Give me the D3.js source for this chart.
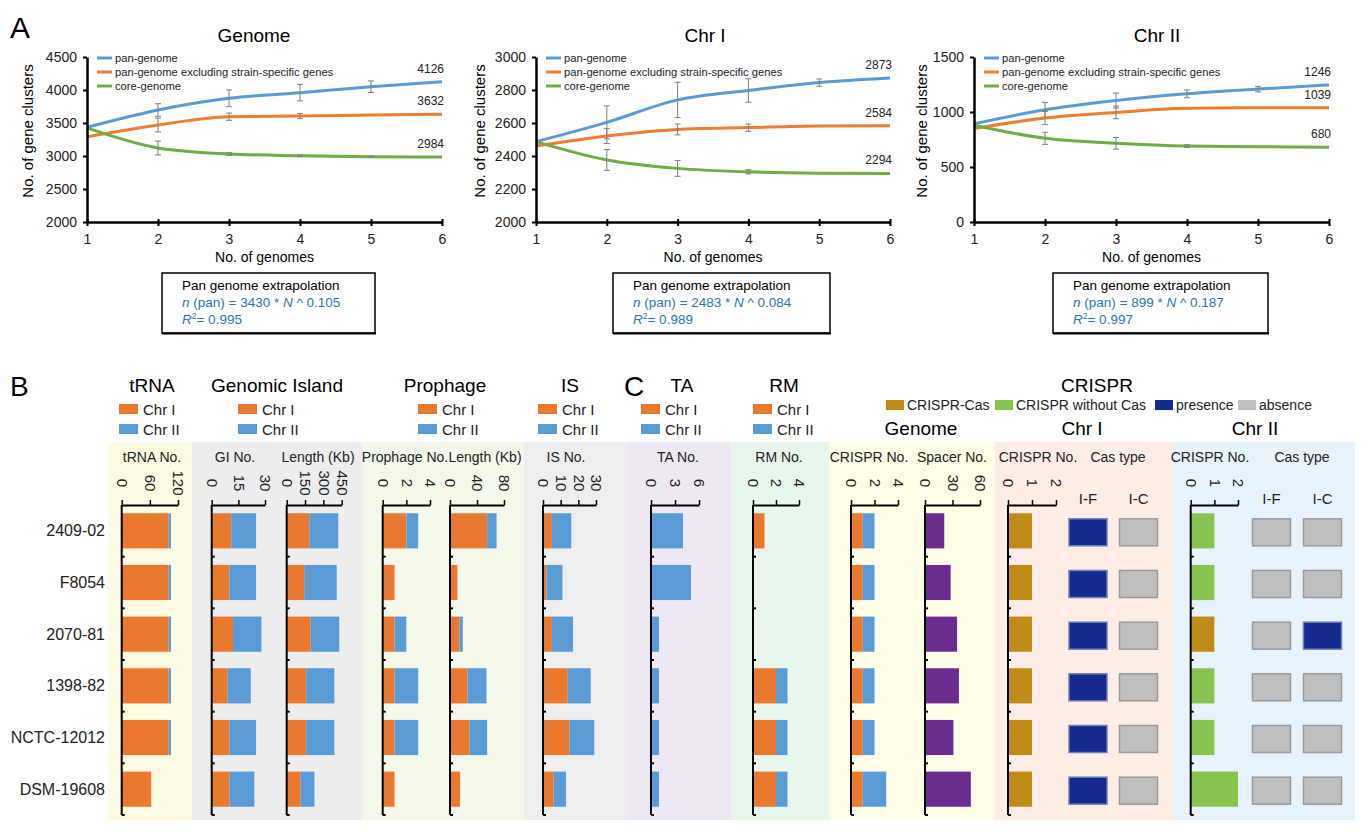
<!DOCTYPE html>
<html>
<head>
<meta charset="utf-8">
<script src="https://cdn.jsdelivr.net/npm/d3@7"></script>
<style>
  body { margin: 0; background: #fff; }
  svg { font-family: "Liberation Sans", Arial, sans-serif; }
</style>
</head>
<body>
<svg id="fig" width="1364" height="832"></svg>
<script>
// ---------- Panel A data ----------
const nGenomes = [1, 2, 3, 4, 5, 6];

const genomePan = [3435, 3697, 3874, 3960, 4050, 4126];
const genomePanErr = [0, 95, 127, 125, 88, 0];
const genomeExcl = [3290, 3470, 3596, 3605, 3621, 3632];
const genomeExclErr = [0, 105, 55, 40, 0, 0];
const genomeCore = [3425, 3121, 3030, 3005, 2990, 2984];
const genomeCoreErr = [0, 105, 20, 15, 10, 0];

const chr1Pan = [2487, 2604, 2740, 2797, 2845, 2873];
const chr1PanErr = [0, 100, 107, 71, 22, 0];
const chr1Excl = [2460, 2521, 2561, 2572, 2582, 2584];
const chr1ExclErr = [0, 45, 33, 22, 0, 0];
const chr1Core = [2487, 2376, 2325, 2304, 2296, 2294];
const chr1CoreErr = [0, 63, 48, 13, 0, 0];

const chr2Pan = [892, 1020, 1104, 1165, 1208, 1246];
const chr2PanErr = [0, 67, 68, 35, 25, 0];
const chr2Excl = [850, 945, 996, 1033, 1039, 1039];
const chr2ExclErr = [0, 60, 57, 0, 0, 0];
const chr2Core = [880, 761, 715, 690, 685, 680];
const chr2CoreErr = [0, 55, 53, 12, 0, 0];

const seriesNames = ["pan-genome", "pan-genome excluding strain-specific genes", "core-genome"];
const fitCoef = ["3430", "2483", "899"];
const fitExp = ["0.105", "0.084", "0.187"];
const fitR2 = ["0.995", "0.989", "0.997"];

// ---------- Panel B/C data ----------
const strains = ["2409-02", "F8054", "2070-81", "1398-82", "NCTC-12012", "DSM-19608"];

const tRNAChr1 = [100, 100, 100, 100, 100, 63];
const tRNAChr2 = [5, 5, 5, 5, 5, 0];
const giNoChr1 = [11, 10, 12, 9, 10, 10];
const giNoChr2 = [14, 15, 16, 13, 15, 14];
const giLenChr1 = [185, 144, 196, 160, 160, 113];
const giLenChr2 = [237, 265, 234, 230, 230, 114];
const phNoChr1 = [2, 1, 1, 1, 1, 1];
const phNoChr2 = [1, 0, 1, 2, 2, 0];
const phLenChr1 = [55, 11, 14, 26, 29, 15];
const phLenChr2 = [14, 0, 5, 28, 26, 0];
const isChr1 = [5, 2, 5, 14, 15, 6];
const isChr2 = [11, 9, 12, 13, 14, 7];
const taChr1 = [0, 0, 0, 0, 0, 0];
const taChr2 = [4, 5, 1, 1, 1, 1];
const rmChr1 = [1, 0, 0, 2, 2, 2];
const rmChr2 = [0, 0, 0, 1, 1, 1];
const crisprChr1 = [1, 1, 1, 1, 1, 1];
const crisprChr2 = [1, 1, 1, 1, 1, 2];
const spacerNo = [21, 28, 35, 37, 31, 50];
const chr1CrisprType = ["cas", "cas", "cas", "cas", "cas", "cas"];
const chr2CrisprType = ["nocas", "nocas", "cas", "nocas", "nocas", "nocas"];
const chr1IF = [1, 1, 1, 1, 1, 1];
const chr1IC = [0, 0, 0, 0, 0, 0];
const chr2IF = [0, 0, 0, 0, 0, 0];
const chr2IC = [0, 0, 1, 0, 0, 0];

const C = {
  blue: "#5b9bd5", orange: "#ed7d31", green: "#70ad47",
  bOrange: "#e8792f", bBlue: "#5b9bd5", gold: "#bf8b17", lime: "#88c24f",
  purple: "#6a2d8f", navy: "#142a8c", grey: "#bfbfbf", fitBlue: "#2e75b6"
};
const fmt = d3.format("d");

const svg = d3.select("#fig");

// ================= Panel A =================
svg.append("text").attr("x", 10).attr("y", 38).attr("font-size", 30).text("A");

const aCharts = [
  { title: "Genome", tcx: 254, left: 87, right: 442, dom: [2000, 4500], ticks: d3.range(2000, 4501, 500),
    s: [[genomePan, genomePanErr], [genomeExcl, genomeExclErr], [genomeCore, genomeCoreErr]], ylab: 33, box: [162, 375] },
  { title: "Chr I", tcx: 705, left: 536, right: 890, dom: [2000, 3000], ticks: d3.range(2000, 3001, 200),
    s: [[chr1Pan, chr1PanErr], [chr1Excl, chr1ExclErr], [chr1Core, chr1CoreErr]], ylab: 485, box: [613, 830] },
  { title: "Chr II", tcx: 1157, left: 974, right: 1329, dom: [0, 1500], ticks: d3.range(0, 1501, 500),
    s: [[chr2Pan, chr2PanErr], [chr2Excl, chr2ExclErr], [chr2Core, chr2CoreErr]], ylab: 927, box: [1053, 1268] }
];
const lineColors = [C.blue, C.orange, C.green];

aCharts.forEach((ch, ci) => {
  const x = d3.scaleLinear().domain([1, 6]).range([ch.left, ch.right]);
  const y = d3.scaleLinear().domain(ch.dom).range([222, 57]);
  const g = svg.append("g");

  // title
  g.append("text").attr("x", ch.tcx).attr("y", 42)
    .attr("text-anchor", "middle").attr("font-size", 19).text(ch.title);

  // lines and error bars
  ch.s.forEach(([vals, errs], si) => {
    const pts = nGenomes.map((n, i) => ({ n, v: vals[i], e: errs[i] }));
    g.append("path").datum(pts)
      .attr("fill", "none").attr("stroke", lineColors[si]).attr("stroke-width", 3)
      .attr("d", d3.line().x(d => x(d.n)).y(d => y(d.v)).curve(d3.curveMonotoneX));
    const eb = g.selectAll(null).data(pts.filter(d => d.e > 0)).enter().append("g")
      .attr("stroke", "#7f7f7f").attr("stroke-width", 1);
    eb.append("line").attr("x1", d => x(d.n)).attr("x2", d => x(d.n))
      .attr("y1", d => y(d.v - d.e)).attr("y2", d => y(d.v + d.e));
    eb.append("line").attr("x1", d => x(d.n) - 3).attr("x2", d => x(d.n) + 3)
      .attr("y1", d => y(d.v - d.e)).attr("y2", d => y(d.v - d.e));
    eb.append("line").attr("x1", d => x(d.n) - 3).attr("x2", d => x(d.n) + 3)
      .attr("y1", d => y(d.v + d.e)).attr("y2", d => y(d.v + d.e));
    // end value label
    g.append("text").attr("x", x(6) + 2).attr("y", y(vals[5]) - 9)
      .attr("text-anchor", "end").attr("font-size", 12).attr("fill", "#222").text(vals[5]);
  });

  // axes
  const ya = g.append("g").attr("transform", `translate(${ch.left},0)`)
    .call(d3.axisLeft(y).tickValues(ch.ticks).tickFormat(fmt).tickSize(4).tickSizeOuter(0).tickPadding(6));
  ya.select(".domain").attr("stroke-width", 2.5);
  ya.selectAll(".tick line").attr("stroke-width", 2);
  ya.selectAll("text").attr("font-size", 14).attr("fill", "#222");

  const xa = g.append("g").attr("transform", "translate(0,222)")
    .call(d3.axisBottom(x).tickValues(nGenomes).tickFormat(fmt).tickSize(4).tickSizeOuter(0).tickPadding(8));
  xa.select(".domain").attr("stroke-width", 2.5);
  xa.selectAll(".tick line").attr("y1", -3).attr("y2", 4).attr("stroke-width", 2);
  xa.selectAll("text").attr("font-size", 14).attr("fill", "#222");

  g.append("text").attr("x", (ch.left + ch.right) / 2).attr("y", 262)
    .attr("text-anchor", "middle").attr("font-size", 14).text("No. of genomes");
  g.append("text").attr("transform", `translate(${ch.ylab},${131}) rotate(-90)`)
    .attr("text-anchor", "middle").attr("font-size", 15).text("No. of gene clusters");

  // legend
  seriesNames.forEach((nm, i) => {
    const ly = 58 + i * 14;
    g.append("line").attr("x1", ch.left + 10).attr("x2", ch.left + 25)
      .attr("y1", ly).attr("y2", ly).attr("stroke", lineColors[i]).attr("stroke-width", 3);
    g.append("text").attr("x", ch.left + 28).attr("y", ly + 4)
      .attr("font-size", 11.2).attr("fill", "#222").text(nm);
  });

  // extrapolation box
  const [bx0, bx1] = ch.box;
  g.append("rect").attr("x", bx0).attr("y", 273).attr("width", bx1 - bx0).attr("height", 60)
    .attr("fill", "#fff").attr("stroke", "#000").attr("stroke-width", 1.5);
  g.append("line").attr("x1", bx0).attr("x2", bx1 + 1).attr("y1", 333.5).attr("y2", 333.5)
    .attr("stroke", "#000").attr("stroke-width", 2);
  const tx = bx0 + 20;
  g.append("text").attr("x", tx).attr("y", 290).attr("font-size", 13.5).text("Pan genome extrapolation");
  const t2 = g.append("text").attr("x", tx).attr("y", 307).attr("font-size", 13.5).attr("fill", C.fitBlue);
  t2.append("tspan").attr("font-style", "italic").text("n");
  t2.append("tspan").text(` (pan) = ${fitCoef[ci]} * `);
  t2.append("tspan").attr("font-style", "italic").text("N");
  t2.append("tspan").text(` ^ ${fitExp[ci]}`);
  const t3 = g.append("text").attr("x", tx).attr("y", 324).attr("font-size", 13.5).attr("fill", C.fitBlue);
  t3.append("tspan").attr("font-style", "italic").text("R");
  t3.append("tspan").attr("font-size", 8.5).attr("dy", -5).text("2");
  t3.append("tspan").attr("dy", 5).text(`= ${fitR2[ci]}`);
});

// ================= Panel B / C =================
const bandTop = 442, bandBottom = 820;
const bands = [
  [108, 192, "#fdfbe4"], [192, 362, "#eeeded"], [362, 524, "#f3f8ea"], [524, 627, "#efeeee"],
  [627, 731, "#ede8f4"], [731, 829, "#e9f6eb"], [829, 995, "#fefde8"], [995, 1173, "#fcede6"],
  [1173, 1355, "#e7f2fb"]
];
svg.append("g").selectAll("rect").data(bands).enter().append("rect")
  .attr("x", d => d[0]).attr("y", bandTop).attr("width", d => d[1] - d[0])
  .attr("height", bandBottom - bandTop).attr("fill", d => d[2]);

svg.append("text").attr("x", 10).attr("y", 396).attr("font-size", 28).text("B");
svg.append("text").attr("x", 624).attr("y", 396).attr("font-size", 28).text("C");

const y = d3.scaleBand().domain(strains).range([505, 815]).paddingInner(0.32).paddingOuter(0.16);

svg.append("g").selectAll("text").data(strains).enter().append("text")
  .attr("x", 105).attr("y", d => y(d) + y.bandwidth() / 2 + 5.5)
  .attr("text-anchor", "end").attr("font-size", 16).attr("fill", "#222").text(d => d);

// group titles with Chr I / Chr II legends
const groups = [
  { name: "tRNA", cx: 152, sw: 119 }, { name: "Genomic Island", cx: 277, sw: 238 },
  { name: "Prophage", cx: 445, sw: 418 }, { name: "IS", cx: 570, sw: 538 },
  { name: "TA", cx: 682, sw: 641 }, { name: "RM", cx: 784, sw: 753 }
];
groups.forEach(gr => {
  svg.append("text").attr("x", gr.cx).attr("y", 392).attr("text-anchor", "middle")
    .attr("font-size", 19).text(gr.name);
  [["Chr I", C.bOrange], ["Chr II", C.bBlue]].forEach(([lab, col], i) => {
    svg.append("rect").attr("x", gr.sw).attr("y", 404 + i * 20).attr("width", 19).attr("height", 10).attr("fill", col);
    svg.append("text").attr("x", gr.sw + 24).attr("y", 414.5 + i * 20).attr("font-size", 15).attr("fill", "#222").text(lab);
  });
});

// CRISPR header
svg.append("text").attr("x", 1097).attr("y", 392).attr("text-anchor", "middle").attr("font-size", 19).text("CRISPR");
const crLegend = [
  [886, C.gold, "CRISPR-Cas"], [995, C.lime, "CRISPR without Cas"],
  [1155, C.navy, "presence"], [1238, C.grey, "absence"]
];
crLegend.forEach(([lx, col, lab]) => {
  svg.append("rect").attr("x", lx).attr("y", 400).attr("width", 18).attr("height", 10).attr("fill", col);
  svg.append("text").attr("x", lx + 21).attr("y", 410).attr("font-size", 14).attr("fill", "#222").text(lab);
});
[["Genome", 921], ["Chr I", 1082], ["Chr II", 1255]].forEach(([lab, cx]) => {
  svg.append("text").attr("x", cx).attr("y", 435).attr("text-anchor", "middle").attr("font-size", 19).text(lab);
});

// bar columns
function barColumn(cfg) {
  const x = d3.scaleLinear().domain([0, cfg.max]).range([cfg.x0, cfg.x1]);
  const g = svg.append("g");
  g.append("text").attr("x", cfg.tx).attr("y", 462).attr("text-anchor", "middle")
    .attr("font-size", 14).attr("fill", "#222").text(cfg.title);

  const rows = strains.map((s, i) => ({ s, i }));
  cfg.stacks.forEach(st => {
    g.selectAll(null).data(rows).enter().append("rect")
      .attr("x", d => x(st.base ? st.base[d.i] : 0))
      .attr("y", d => y(d.s))
      .attr("width", d => x(st.vals[d.i]) - x(0))
      .attr("height", y.bandwidth())
      .attr("fill", d => typeof st.color === "function" ? st.color(d.i) : st.color);
  });

  const ax = g.append("g").attr("transform", "translate(0,505)")
    .call(d3.axisTop(x).tickValues(cfg.ticks).tickFormat(fmt).tickSize(5).tickSizeOuter(0));
  ax.select(".domain").attr("stroke-width", 1.8);
  ax.selectAll(".tick line").attr("stroke-width", 1.5);
  ax.selectAll(".tick text").attr("y", 0).attr("dy", "0.35em")
    .attr("transform", "translate(0,-22) rotate(90)")
    .attr("text-anchor", "middle").attr("font-size", 15).attr("fill", "#222");

  // vertical category axis
  g.append("line").attr("x1", x(0)).attr("x2", x(0)).attr("y1", 505).attr("y2", 815)
    .attr("stroke", "#000").attr("stroke-width", 2);
  g.selectAll(null).data(d3.range(1, strains.length + 1)).enter().append("line")
    .attr("x1", x(0)).attr("x2", x(0) + 3)
    .attr("y1", k => 505 + k * y.step()).attr("y2", k => 505 + k * y.step())
    .attr("stroke", "#000").attr("stroke-width", 2);
}

function stacked(c1, c2) {
  return [{ vals: c1, color: C.bOrange }, { vals: c2, base: c1, color: C.bBlue }];
}

barColumn({ title: "tRNA No.", tx: 152, x0: 121.7, x1: 178, max: 120, ticks: [0, 60, 120], stacks: stacked(tRNAChr1, tRNAChr2) });
barColumn({ title: "GI No.", tx: 235, x0: 211.7, x1: 265, max: 30, ticks: [0, 15, 30], stacks: stacked(giNoChr1, giNoChr2) });
barColumn({ title: "Length (Kb)", tx: 318, x0: 286.7, x1: 341.7, max: 450, ticks: [0, 150, 300, 450], stacks: stacked(giLenChr1, giLenChr2) });
barColumn({ title: "Prophage No.", tx: 405, x0: 382.7, x1: 430, max: 4, ticks: [0, 2, 4], stacks: stacked(phNoChr1, phNoChr2) });
barColumn({ title: "Length (Kb)", tx: 485, x0: 450, x1: 504, max: 80, ticks: [0, 40, 80], stacks: stacked(phLenChr1, phLenChr2) });
barColumn({ title: "IS No.", tx: 566, x0: 543, x1: 596, max: 30, ticks: [0, 10, 20, 30], stacks: stacked(isChr1, isChr2) });
barColumn({ title: "TA No.", tx: 678, x0: 651, x1: 699, max: 6, ticks: [0, 3, 6], stacks: stacked(taChr1, taChr2) });
barColumn({ title: "RM No.", tx: 779, x0: 753, x1: 799, max: 4, ticks: [0, 2, 4], stacks: stacked(rmChr1, rmChr2) });
barColumn({ title: "CRISPR No.", tx: 869, x0: 851, x1: 898, max: 4, ticks: [0, 2, 4], stacks: stacked(crisprChr1, crisprChr2) });
barColumn({ title: "Spacer No.", tx: 952, x0: 925, x1: 980, max: 60, ticks: [0, 30, 60], stacks: [{ vals: spacerNo, color: C.purple }] });
barColumn({ title: "CRISPR No.", tx: 1038, x0: 1008, x1: 1056, max: 2, ticks: [0, 1, 2],
  stacks: [{ vals: crisprChr1, color: i => chr1CrisprType[i] === "cas" ? C.gold : C.lime }] });
barColumn({ title: "CRISPR No.", tx: 1210, x0: 1190.7, x1: 1238, max: 2, ticks: [0, 1, 2],
  stacks: [{ vals: crisprChr2, color: i => chr2CrisprType[i] === "cas" ? C.gold : C.lime }] });

// Cas type squares
[["Cas type", 1118], ["Cas type", 1302]].forEach(([lab, cx]) => {
  svg.append("text").attr("x", cx).attr("y", 462).attr("text-anchor", "middle")
    .attr("font-size", 14).attr("fill", "#222").text(lab);
});
const casCols = [
  { lab: "I-F", cx: 1088, vals: chr1IF }, { lab: "I-C", cx: 1138.5, vals: chr1IC },
  { lab: "I-F", cx: 1271.5, vals: chr2IF }, { lab: "I-C", cx: 1322.5, vals: chr2IC }
];
casCols.forEach(cc => {
  svg.append("text").attr("x", cc.cx).attr("y", 504).attr("text-anchor", "middle")
    .attr("font-size", 15).attr("fill", "#222").text(cc.lab);
  svg.append("g").selectAll("rect").data(strains).enter().append("rect")
    .attr("x", cc.cx - 19).attr("y", d => y(d) + y.bandwidth() / 2 - 12)
    .attr("width", 38).attr("height", 27)
    .attr("fill", (d, i) => cc.vals[i] ? C.navy : C.grey)
    .attr("stroke", (d, i) => cc.vals[i] ? "#6f7fb0" : "#9a9a9a").attr("stroke-width", 1.5);
});
</script>
</body>
</html>
